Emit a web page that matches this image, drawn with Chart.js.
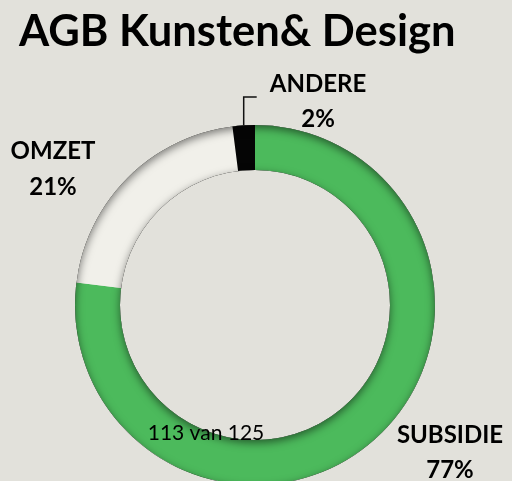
<!DOCTYPE html>
<html>
<head>
<meta charset="utf-8">
<script src="https://cdn.jsdelivr.net/npm/chart.js@4/dist/chart.umd.min.js"></script>
<style>
  html, body { margin: 0; padding: 0; background: #e2e1db; overflow: hidden; }
  #wrap { position: relative; width: 512px; height: 490px; }
</style>
</head>
<body>
<div id="wrap"><canvas id="c" width="512" height="490"></canvas></div>
<script>
const title = "AGB Kunsten& Design";
const categories = ["SUBSIDIE", "OMZET", "ANDERE"];
const values = [77, 21, 2];
const colors = ["#4cba5c", "#f1f0ea", "#050505"];
const footnote = "113 van 125";

const labelPlugin = {
  id: 'labels',
  afterDatasetsDraw(chart) {
    const ctx = chart.ctx;
    const arcs = chart.getDatasetMeta(0).data;
    const cx = arcs[0].x, cy = arcs[0].y, R = arcs[0].outerRadius, r = arcs[0].innerRadius;

    // soft inner shadow (bevel look)
    ctx.save();
    ctx.beginPath();
    ctx.arc(cx, cy, R, 0, Math.PI * 2);
    ctx.arc(cx, cy, r, 0, Math.PI * 2, true);
    ctx.clip();
    ctx.shadowColor = 'rgba(0,0,0,0.5)';
    ctx.shadowBlur = 9;
    ctx.shadowOffsetY = 3;
    ctx.fillStyle = '#000';
    ctx.beginPath();
    ctx.rect(cx - R - 60, cy - R - 60, 2 * R + 120, 2 * R + 120);
    ctx.arc(cx, cy, R, 0, Math.PI * 2, true);
    ctx.moveTo(cx + r, cy);
    ctx.arc(cx, cy, r, 0, Math.PI * 2);
    ctx.fill('evenodd');
    ctx.restore();

    ctx.save();
    ctx.fillStyle = '#000';
    ctx.textAlign = 'left';
    ctx.textBaseline = 'alphabetic';
    ctx.font = 'bold 43.5px Lato';
    ctx.fillText(title, 19, 46);

    ctx.textAlign = 'center';
    ctx.font = 'bold 24px Lato';
    const lab = (i, x, y1, y2) => {
      ctx.fillText(categories[i], x, y1);
      ctx.fillText(values[i] + '%', x, y2);
    };
    lab(2, cx + 63, cy - 213, cy - 178);
    lab(1, cx - 202, cy - 146, cy - 110);
    lab(0, cx + 195, cy + 138, cy + 173);

    // leader line for ANDERE
    const a = arcs[2];
    const mid = (a.startAngle + a.endAngle) / 2;
    const lx = cx + Math.cos(mid) * R, ly = cy + Math.sin(mid) * R;
    ctx.strokeStyle = '#111';
    ctx.lineWidth = 1.5;
    ctx.beginPath();
    ctx.moveTo(lx, ly);
    ctx.lineTo(lx, cy - 208);
    ctx.lineTo(lx + 13, cy - 208);
    ctx.stroke();

    ctx.font = '21px Lato';
    ctx.fillText(footnote, cx - 49, cy + 135);
    ctx.restore();
  }
};

new Chart(document.getElementById('c'), {
  type: 'doughnut',
  data: {
    labels: categories,
    datasets: [{
      data: values,
      backgroundColor: colors,
      borderWidth: 0
    }]
  },
  options: {
    responsive: false,
    animation: false,
    cutout: '75%',
    rotation: 0,
    layout: { padding: { top: 125, left: 75, right: 77, bottom: 5 } },
    plugins: {
      legend: { display: false },
      tooltip: { enabled: false },
      title: { display: false }
    }
  },
  plugins: [labelPlugin]
});
</script>
</body>
</html>
